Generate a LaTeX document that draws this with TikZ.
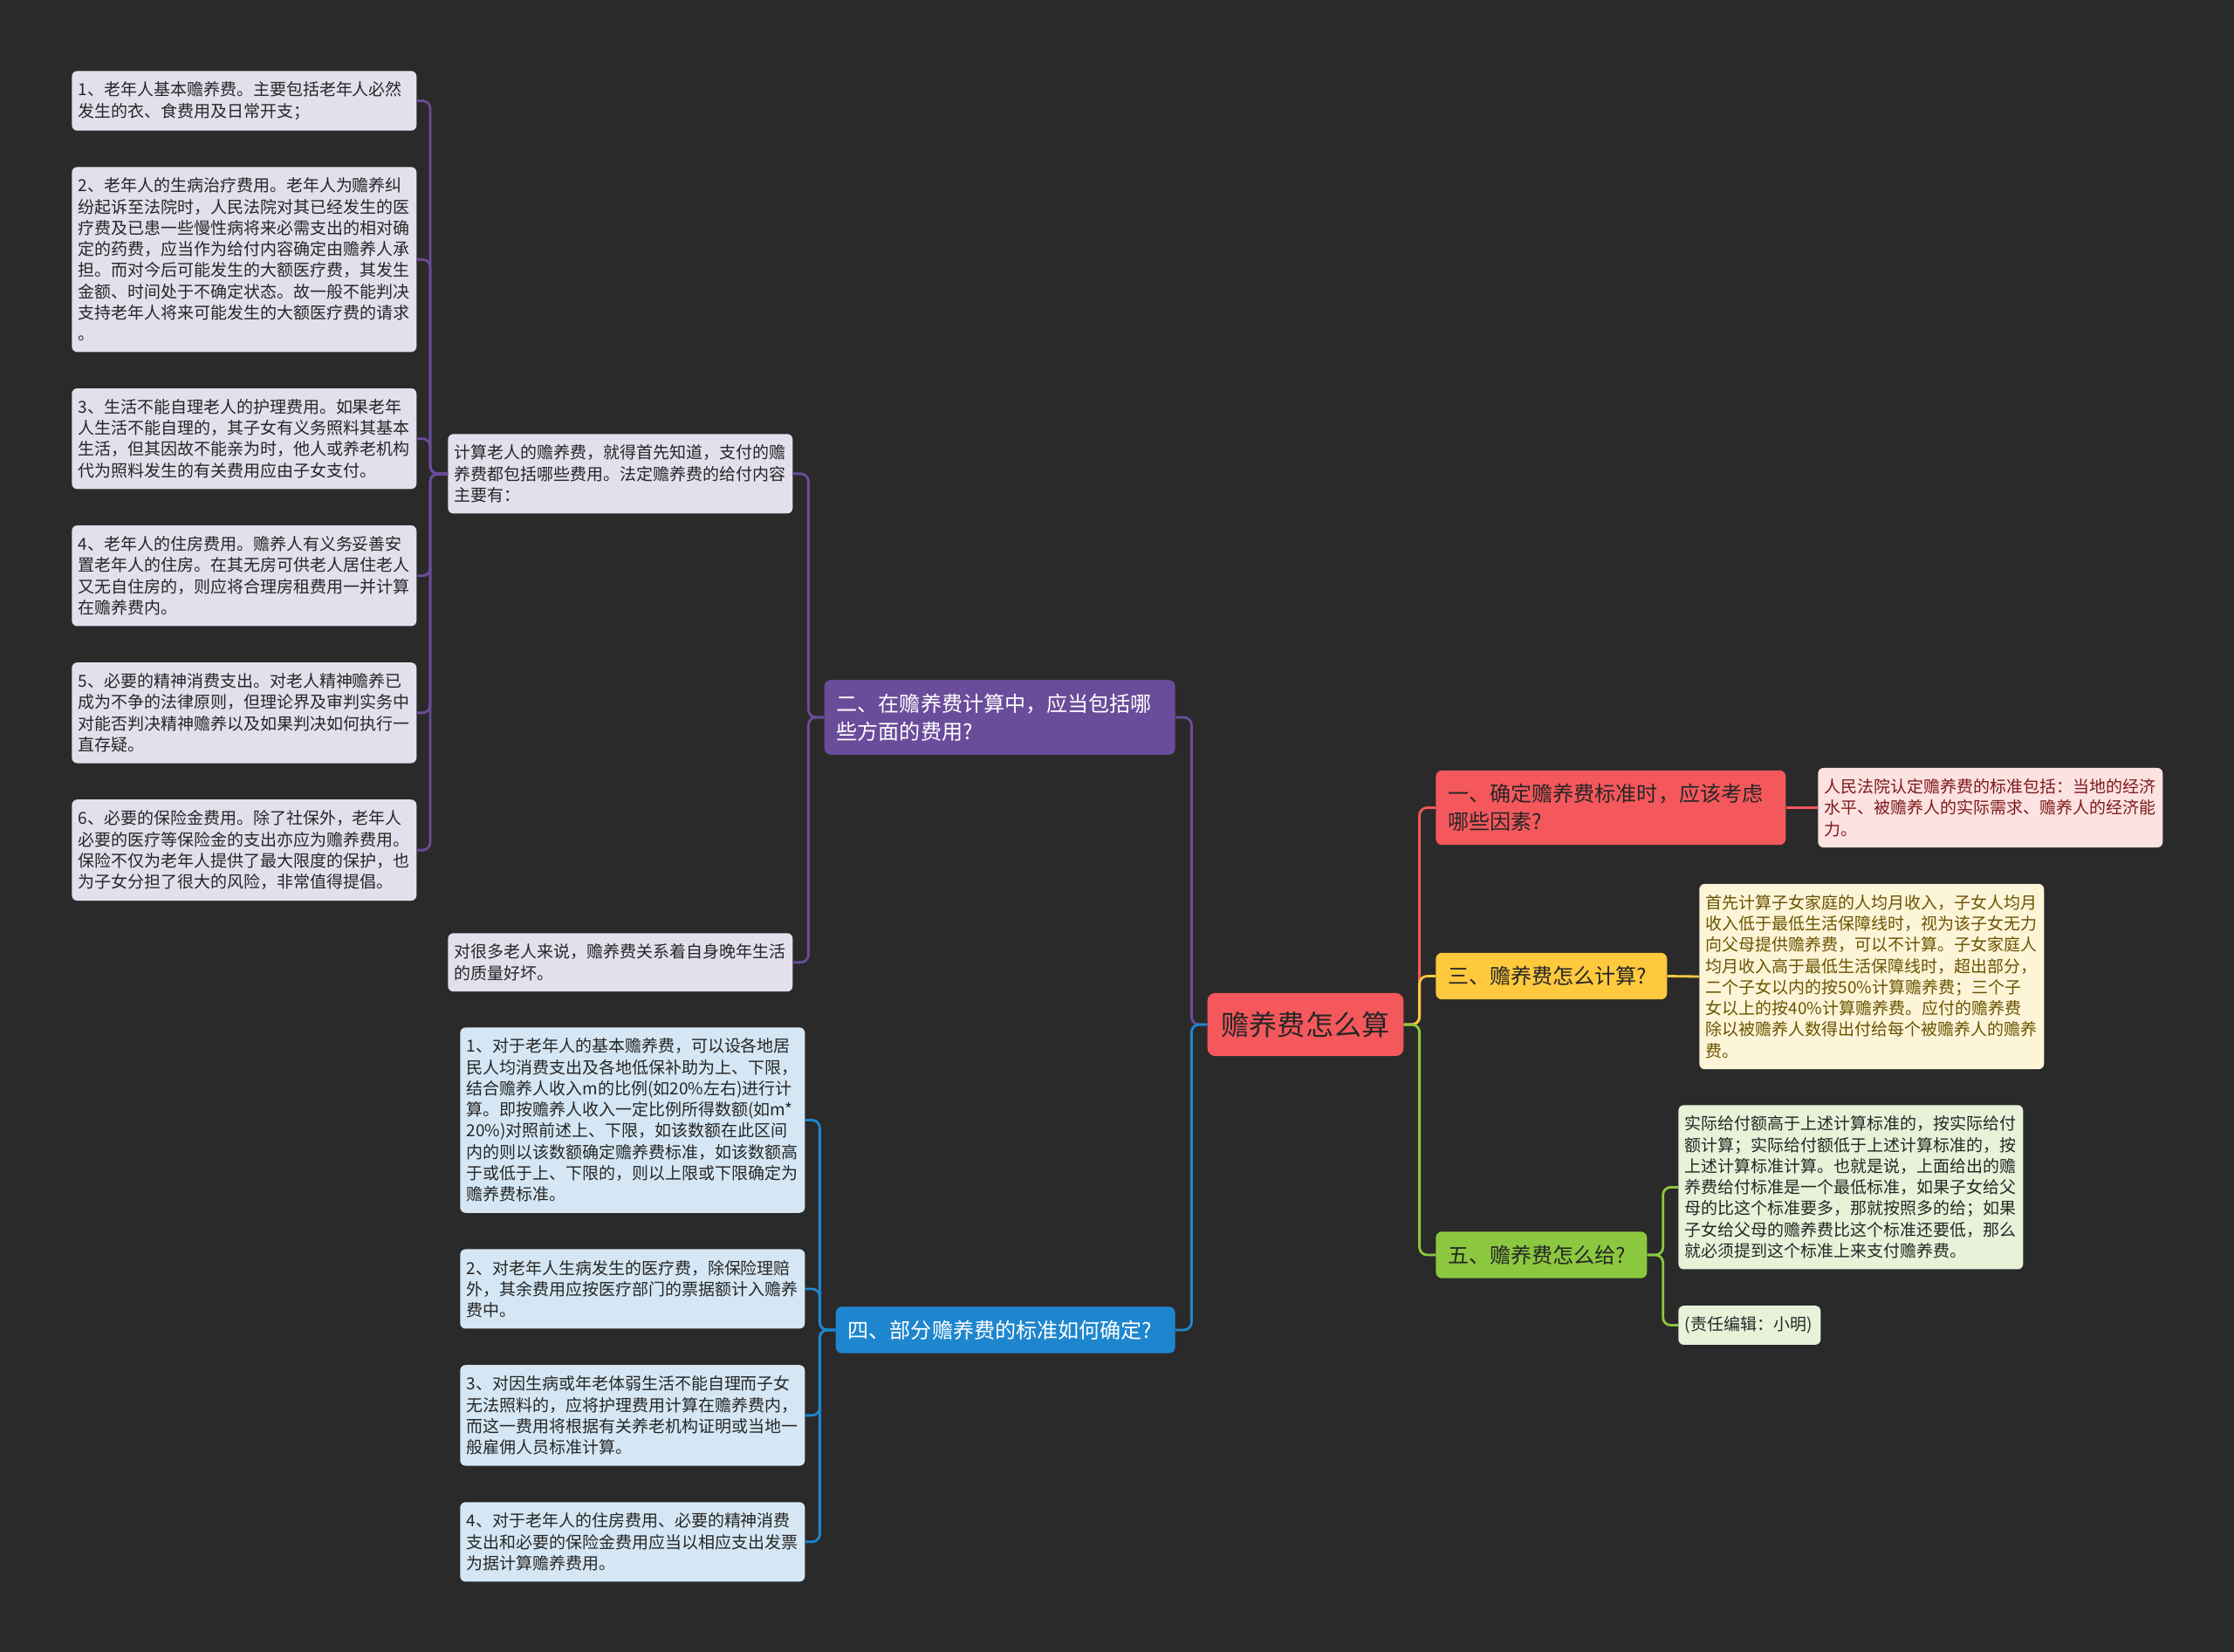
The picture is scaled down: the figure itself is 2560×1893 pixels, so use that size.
\documentclass[tikz,border=0pt]{standalone}
\usepackage{fontspec}
\usepackage{xcolor}
\usetikzlibrary{positioning}
\newfontfamily\zhfont{Noto Sans CJK SC}
\definecolor{bgDark}{HTML}{2A2A2A}
\definecolor{rootRed}{HTML}{F4585C}
\definecolor{secPurple}{HTML}{6B4C9A}
\definecolor{secBlue}{HTML}{1E86CE}
\definecolor{secYellow}{HTML}{FFC93E}
\definecolor{secGreen}{HTML}{8CC83F}
\definecolor{leafLilac}{HTML}{E3DFEC}
\definecolor{leafSky}{HTML}{D5E7F4}
\definecolor{leafPink}{HTML}{FDE2E2}
\definecolor{leafCream}{HTML}{FDF5D8}
\definecolor{leafMint}{HTML}{E8F2D9}
\definecolor{inkDark}{HTML}{262626}
\definecolor{inkRed}{HTML}{7E1A1A}
\definecolor{inkOlive}{HTML}{6B5300}
\tikzset{
  link/.style={line width=1.6pt,rounded corners=5pt},
  leaf node/.style={rounded corners=3.5pt,inner xsep=0.15cm,inner ysep=7.1pt,
    text width=7.6cm,align=left,text=inkDark,
    font=\zhfont\fontsize{10.8}{13.8}\selectfont},
  branch node/.style={rounded corners=4pt,inner xsep=0.28cm,inner ysep=8.8pt,
    align=left,text=inkDark,font=\zhfont\fontsize{13.7}{18.3}\selectfont},
  root node/.style={rounded corners=5pt,fill=rootRed,text=inkDark,
    inner xsep=9pt,inner ysep=12pt,font=\zhfont\fontsize{18.3}{22}\selectfont}
}

\begin{document}
\begin{tikzpicture}[x=0.02cm,y=-0.02cm,node distance=0.82cm]
  \path[fill=bgDark,use as bounding box] (0,0) rectangle (2560,1893);

  % centre and main branches
  \node[root node] (root) at (1496,1174) {赡养费怎么算};
  \node[branch node,fill=secPurple,text=white,text width=7.48cm,anchor=east]
    (sec2) at (1347,822) {二、在赡养费计算中，应当包括哪\\些方面的费用?};
  \node[branch node,fill=secBlue,text=white,text width=7.22cm,anchor=east]
    (sec4) at (1347,1524) {四、部分赡养费的标准如何确定?};
  \node[branch node,fill=rootRed,text width=7.46cm,anchor=west]
    (sec1) at (1645,925.5) {一、确定赡养费标准时，应该考虑\\哪些因素?};
  \node[branch node,fill=secYellow,text width=4.74cm,anchor=west]
    (sec3) at (1645,1118.5) {三、赡养费怎么计算?};
  \node[branch node,fill=secGreen,text width=4.28cm,anchor=west]
    (sec5) at (1645,1438) {五、赡养费怎么给?};

  % purple branch
  \node[leaf node,fill=leafLilac,anchor=north west] (costIntro) at (513,497)
    {计算老人的赡养费，就得首先知道，支付的赡\\养费都包括哪些费用。法定赡养费的给付内容\\主要有：};
  \node[leaf node,fill=leafLilac,anchor=north west] (costNote) at (513,1069)
    {对很多老人来说，赡养费关系着自身晚年生活\\的质量好坏。};
  \node[leaf node,fill=leafLilac,anchor=north west] (cost1) at (82,81)
    {1、老年人基本赡养费。主要包括老年人必然\\发生的衣、食费用及日常开支；};
  \node[leaf node,fill=leafLilac,below=of cost1] (cost2)
    {2、老年人的生病治疗费用。老年人为赡养纠\\纷起诉至法院时，人民法院对其已经发生的医\\疗费及已患一些慢性病将来必需支出的相对确\\定的药费，应当作为给付内容确定由赡养人承\\担。而对今后可能发生的大额医疗费，其发生\\金额、时间处于不确定状态。故一般不能判决\\支持老年人将来可能发生的大额医疗费的请求\\。};
  \node[leaf node,fill=leafLilac,below=of cost2] (cost3)
    {3、生活不能自理老人的护理费用。如果老年\\人生活不能自理的，其子女有义务照料其基本\\生活，但其因故不能亲为时，他人或养老机构\\代为照料发生的有关费用应由子女支付。};
  \node[leaf node,fill=leafLilac,below=of cost3] (cost4)
    {4、老年人的住房费用。赡养人有义务妥善安\\置老年人的住房。在其无房可供老人居住老人\\又无自住房的，则应将合理房租费用一并计算\\在赡养费内。};
  \node[leaf node,fill=leafLilac,below=of cost4] (cost5)
    {5、必要的精神消费支出。对老人精神赡养已\\成为不争的法律原则，但理论界及审判实务中\\对能否判决精神赡养以及如果判决如何执行一\\直存疑。};
  \node[leaf node,fill=leafLilac,below=of cost5] (cost6)
    {6、必要的保险金费用。除了社保外，老年人\\必要的医疗等保险金的支出亦应为赡养费用。\\保险不仅为老年人提供了最大限度的保护，也\\为子女分担了很大的风险，非常值得提倡。};

  % blue branch
  \node[leaf node,fill=leafSky,anchor=north west] (std1) at (527,1177)
    {1、对于老年人的基本赡养费，可以设各地居\\民人均消费支出及各地低保补助为上、下限，\\结合赡养人收入m的比例(如20\%左右)进行计\\算。即按赡养人收入一定比例所得数额(如m*\\20\%)对照前述上、下限，如该数额在此区间\\内的则以该数额确定赡养费标准，如该数额高\\于或低于上、下限的，则以上限或下限确定为\\赡养费标准。};
  \node[leaf node,fill=leafSky,below=of std1] (std2)
    {2、对老年人生病发生的医疗费，除保险理赔\\外，其余费用应按医疗部门的票据额计入赡养\\费中。};
  \node[leaf node,fill=leafSky,below=of std2] (std3)
    {3、对因生病或年老体弱生活不能自理而子女\\无法照料的，应将护理费用计算在赡养费内，\\而这一费用将根据有关养老机构证明或当地一\\般雇佣人员标准计算。};
  \node[leaf node,fill=leafSky,below=of std3] (std4)
    {4、对于老年人的住房费用、必要的精神消费\\支出和必要的保险金费用应当以相应支出发票\\为据计算赡养费用。};

  % right side
  \node[leaf node,fill=leafPink,text=inkRed,anchor=west] (factorText) at (2083,925.5)
    {人民法院认定赡养费的标准包括：当地的经济\\水平、被赡养人的实际需求、赡养人的经济能\\力。};
  \node[leaf node,fill=leafCream,text=inkOlive,anchor=west] (calcText) at (1947,1119)
    {首先计算子女家庭的人均月收入，子女人均月\\收入低于最低生活保障线时，视为该子女无力\\向父母提供赡养费，可以不计算。子女家庭人\\均月收入高于最低生活保障线时，超出部分，\\二个子女以内的按50\%计算赡养费；三个子\\女以上的按40\%计算赡养费。应付的赡养费\\除以被赡养人数得出付给每个被赡养人的赡养\\费。};
  \node[leaf node,fill=leafMint,anchor=north west] (payText) at (1923,1266)
    {实际给付额高于上述计算标准的，按实际给付\\额计算；实际给付额低于上述计算标准的，按\\上述计算标准计算。也就是说，上面给出的赡\\养费给付标准是一个最低标准，如果子女给父\\母的比这个标准要多，那就按照多的给；如果\\子女给父母的赡养费比这个标准还要低，那么\\就必须提到这个标准上来支付赡养费。};
  \node[leaf node,fill=leafMint,text width=2.96cm,below=of payText.south west,
    anchor=north west] (editor) {(责任编辑：小明)};

  % connectors, left
  \draw[link,secPurple] (root.west) -- ++(-18,0) |- (sec2.east);
  \draw[link,secBlue] (root.west) -- ++(-18,0) |- (sec4.east);
  \draw[link,secPurple] (sec2.west) -- ++(-18,0) |- (costIntro.east);
  \draw[link,secPurple] (sec2.west) -- ++(-18,0) |- (costNote.east);
  \draw[link,secPurple] (costIntro.west) -- ++(-20,0) |- (cost1.east);
  \draw[link,secPurple] (costIntro.west) -- ++(-20,0) |- (cost2.east);
  \draw[link,secPurple] (costIntro.west) -- ++(-20,0) |- (cost3.east);
  \draw[link,secPurple] (costIntro.west) -- ++(-20,0) |- (cost4.east);
  \draw[link,secPurple] (costIntro.west) -- ++(-20,0) |- (cost5.east);
  \draw[link,secPurple] (costIntro.west) -- ++(-20,0) |- (cost6.east);
  \draw[link,secBlue] (sec4.west) -- ++(-18,0) |- (std1.east);
  \draw[link,secBlue] (sec4.west) -- ++(-18,0) |- (std2.east);
  \draw[link,secBlue] (sec4.west) -- ++(-18,0) |- (std3.east);
  \draw[link,secBlue] (sec4.west) -- ++(-18,0) |- (std4.east);

  % connectors, right
  \draw[link,rootRed] (root.east) -- ++(18,0) |- (sec1.west);
  \draw[link,secYellow] (root.east) -- ++(18,0) |- (sec3.west);
  \draw[link,secGreen] (root.east) -- ++(18,0) |- (sec5.west);
  \draw[link,rootRed] (sec1.east) -- (factorText.west);
  \draw[link,secYellow] (sec3.east) -- (calcText.west);
  \draw[link,secGreen] (sec5.east) -- ++(18,0) |- (payText.west);
  \draw[link,secGreen] (sec5.east) -- ++(18,0) |- (editor.west);
\end{tikzpicture}
\end{document}
